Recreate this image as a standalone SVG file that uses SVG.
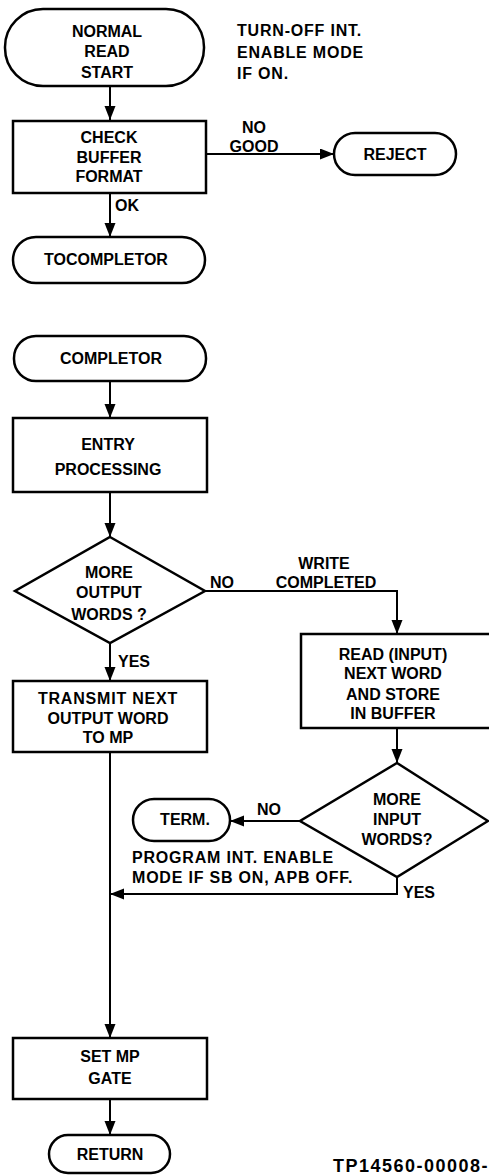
<svg xmlns="http://www.w3.org/2000/svg" width="489" height="1176" viewBox="0 0 489 1176">
<style>
.s{fill:none;stroke:#000;stroke-width:2.5}
.c{fill:none;stroke:#000;stroke-width:2}
text{font-family:"Liberation Sans",Arial,sans-serif;font-weight:bold;font-size:16px;fill:#000}
.m{text-anchor:middle}
.n{letter-spacing:0.8px}
</style>
<defs>
<marker id="ah" markerUnits="userSpaceOnUse" markerWidth="15" markerHeight="12" refX="14" refY="5.5" orient="auto">
<path d="M0,0 L14,5.5 L0,11 z" fill="#000"/>
</marker>
</defs>
<rect width="489" height="1176" fill="#fff"/>
<g id="connectors">
<path class="c" d="M110,86 V120" marker-end="url(#ah)"/>
<path class="c" d="M206,154 H334" marker-end="url(#ah)"/>
<path class="c" d="M110,193 V237" marker-end="url(#ah)"/>
<path class="c" d="M110,381 V418" marker-end="url(#ah)"/>
<path class="c" d="M110,492 V537" marker-end="url(#ah)"/>
<path class="c" d="M205,591 H397 V634" marker-end="url(#ah)"/>
<path class="c" d="M110,643 V681" marker-end="url(#ah)"/>
<path class="c" d="M397,728 V763" marker-end="url(#ah)"/>
<path class="c" d="M300,821 H230" marker-end="url(#ah)"/>
<path class="c" d="M397,877 V894 H110" marker-end="url(#ah)"/>
<path class="c" d="M110,752 V1038" marker-end="url(#ah)"/>
<path class="c" d="M110,1099 V1135" marker-end="url(#ah)"/>
<text x="254" y="133" class="m">NO</text>
<text x="254" y="152" class="m">GOOD</text>
<text x="115" y="211">OK</text>
<text x="210" y="588">NO</text>
<text x="324" y="569" class="m">WRITE</text>
<text x="326" y="588" class="m">COMPLETED</text>
<text x="118" y="667">YES</text>
<text x="257" y="815">NO</text>
<text x="403" y="898">YES</text>
</g>
<g id="normal-read-start">
<rect class="s" x="5" y="9" width="199" height="77" rx="38"/>
<text x="107" y="37" class="m">NORMAL</text>
<text x="107" y="57" class="m">READ</text>
<text x="107" y="78" class="m">START</text>
</g>
<g id="note-turnoff">
<text x="237" y="36" class="n">TURN-OFF INT.</text>
<text x="237" y="58" class="n">ENABLE MODE</text>
<text x="237" y="79" class="n">IF ON.</text>
</g>
<g id="check-buffer">
<rect class="s" x="13" y="121" width="193" height="72"/>
<text x="109" y="143" class="m">CHECK</text>
<text x="109" y="163" class="m">BUFFER</text>
<text x="109" y="182" class="m">FORMAT</text>
</g>
<g id="reject">
<rect class="s" x="334" y="133" width="122" height="42" rx="21"/>
<text x="395" y="160" class="m">REJECT</text>
</g>
<g id="tocompletor">
<rect class="s" x="13" y="237" width="192" height="46" rx="23"/>
<text x="106" y="265" class="m">TOCOMPLETOR</text>
</g>
<g id="completor">
<rect class="s" x="14" y="336" width="192" height="45" rx="22"/>
<text x="111" y="364" class="m">COMPLETOR</text>
</g>
<g id="entry-processing">
<rect class="s" x="13" y="418" width="194" height="74"/>
<text x="108" y="450" class="m">ENTRY</text>
<text x="108" y="475" class="m">PROCESSING</text>
</g>
<g id="more-output">
<polygon class="s" points="110,537 205,591 110,643 15,591"/>
<text x="109" y="578" class="m">MORE</text>
<text x="109" y="598" class="m">OUTPUT</text>
<text x="109" y="620" class="m">WORDS ?</text>
</g>
<g id="transmit">
<rect class="s" x="13" y="681" width="194" height="71"/>
<text x="108" y="704" class="m n">TRANSMIT NEXT</text>
<text x="108" y="724" class="m">OUTPUT WORD</text>
<text x="108" y="743" class="m">TO MP</text>
</g>
<g id="read-input">
<rect class="s" x="301" y="634" width="192" height="94"/>
<text x="393" y="660" class="m">READ (INPUT)</text>
<text x="393" y="679" class="m">NEXT WORD</text>
<text x="393" y="700" class="m">AND STORE</text>
<text x="393" y="719" class="m">IN BUFFER</text>
</g>
<g id="more-input">
<polygon class="s" points="397,763 488,821 397,877 300,821"/>
<text x="397" y="805" class="m">MORE</text>
<text x="397" y="825" class="m">INPUT</text>
<text x="397" y="845" class="m">WORDS?</text>
</g>
<g id="term">
<rect class="s" x="133" y="799" width="97" height="42" rx="21"/>
<text x="185" y="825" class="m">TERM.</text>
</g>
<g id="note-program">
<text x="132" y="863" class="n">PROGRAM INT. ENABLE</text>
<text x="132" y="883" class="n">MODE IF SB ON, APB OFF.</text>
</g>
<g id="set-mp-gate">
<rect class="s" x="13" y="1038" width="194" height="61"/>
<text x="110" y="1062" class="m">SET MP</text>
<text x="110" y="1084" class="m">GATE</text>
</g>
<g id="return">
<rect class="s" x="49" y="1135" width="121" height="38" rx="19"/>
<text x="110" y="1160" class="m">RETURN</text>
</g>
<text x="333" y="1172" style="font-size:18px;font-weight:900;letter-spacing:1.5px">TP14560-00008-</text>
</svg>
